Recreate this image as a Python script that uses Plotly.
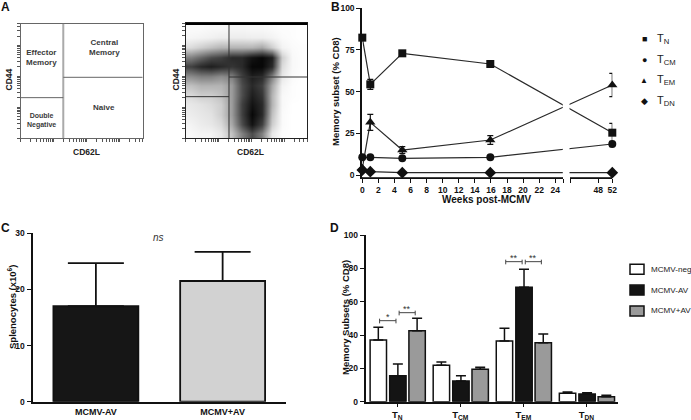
import math
import plotly.graph_objects as go

W, H = 691, 420
FONT = "Liberation Sans, Arial, sans-serif"
INK = "#111111"

def px(x):
    return x / W

def py(y):
    return 1 - y / H

# ---------------- Panel A: flow cytometry (CD62L vs CD44), density ----------------
cd62l_bins = [0.042, 0.125, 0.208, 0.292, 0.375, 0.458, 0.542, 0.625, 0.708, 0.792, 0.875, 0.958]
cd44_bins = [0.958, 0.875, 0.792, 0.708, 0.625, 0.542, 0.458, 0.375, 0.292, 0.208, 0.125, 0.042]
density = [
    [0.02, 0.02, 0.03, 0.03, 0.04, 0.04, 0.03, 0.03, 0.02, 0.01, 0.01, 0.00],
    [0.04, 0.05, 0.06, 0.08, 0.08, 0.08, 0.07, 0.07, 0.05, 0.02, 0.01, 0.00],
    [0.15, 0.20, 0.25, 0.30, 0.30, 0.30, 0.30, 0.35, 0.20, 0.05, 0.02, 0.01],
    [0.50, 0.60, 0.70, 0.75, 0.85, 0.85, 0.95, 1.00, 0.90, 0.20, 0.03, 0.01],
    [0.75, 0.85, 0.90, 0.85, 0.80, 0.85, 1.00, 1.00, 0.85, 0.15, 0.03, 0.01],
    [0.45, 0.50, 0.50, 0.45, 0.50, 0.75, 0.90, 0.85, 0.50, 0.10, 0.02, 0.00],
    [0.25, 0.30, 0.30, 0.30, 0.40, 0.70, 0.85, 0.75, 0.35, 0.05, 0.01, 0.00],
    [0.15, 0.20, 0.20, 0.25, 0.40, 0.70, 0.90, 0.80, 0.30, 0.03, 0.01, 0.00],
    [0.10, 0.12, 0.15, 0.20, 0.40, 0.75, 0.95, 0.85, 0.30, 0.03, 0.00, 0.00],
    [0.08, 0.10, 0.12, 0.20, 0.40, 0.75, 1.00, 0.85, 0.25, 0.02, 0.00, 0.00],
    [0.05, 0.08, 0.10, 0.15, 0.35, 0.70, 0.95, 0.75, 0.20, 0.02, 0.00, 0.00],
    [0.03, 0.05, 0.05, 0.10, 0.25, 0.50, 0.70, 0.50, 0.10, 0.01, 0.00, 0.00],
]
quadrant_labels = ["Effector<br>Memory", "Central<br>Memory", "Naive", "Double<br>Negative"]

# ---------------- Panel B: memory subsets over time ----------------
weeks = [0, 1, 5, 16, 52]
b_series = ["T<sub>N</sub>", "T<sub>CM</sub>", "T<sub>EM</sub>", "T<sub>DN</sub>"]
tn = [82.4, 54.4, 73.0, 66.6, 25.4]
tn_err = [0.0, 3.0, 0.8, 1.0, 5.6]
tcm = [10.6, 10.6, 10.0, 10.6, 18.6]
tcm_err = [0.0, 0.0, 0.0, 0.0, 1.6]
tem = [4.0, 31.6, 15.0, 21.0, 54.0]
tem_err = [0.0, 4.8, 2.0, 2.6, 7.0]
tdn = [3.0, 2.0, 1.4, 1.4, 1.4]
tdn_err = [0.0, 0.0, 0.0, 0.0, 0.0]
b_left_ticks = [0, 2, 4, 6, 8, 10, 12, 14, 16, 18, 20, 22, 24]
b_right_ticks = [48, 52]
b_yticks = [0, 25, 50, 75, 100]

# ---------------- Panel C: splenocytes ----------------
c_groups = ["MCMV-AV", "MCMV+AV"]
c_vals = [17.0, 21.5]
c_err = [7.7, 5.2]

# ---------------- Panel D: memory subsets by group ----------------
d_subsets = ["T<sub>N</sub>", "T<sub>CM</sub>", "T<sub>EM</sub>", "T<sub>DN</sub>"]
d_names = ["MCMV-neg", "MCMV-AV", "MCMV+AV"]
d_neg = [37.0, 21.9, 36.4, 5.0]
d_neg_err = [7.6, 1.9, 7.6, 0.8]
d_av = [15.6, 12.4, 68.6, 4.6]
d_av_err = [7.0, 3.2, 10.8, 0.7]
d_pav = [42.6, 19.4, 35.4, 3.0]
d_pav_err = [7.4, 1.2, 5.2, 0.8]
d_sig = [(0, 0, 1, 48.6, "*"), (0, 1, 2, 53.4, "**"), (2, 0, 1, 84.0, "**"), (2, 1, 2, 84.0, "**")]

# ---------------- styles ----------------
B_SYMBOLS = ["square", "circle", "triangle-up", "diamond"]
B_GLYPHS = ["\u25a0", "\u25cf", "\u25b2", "\u25c6"]
D_COLORS = ["#ffffff", "#141414", "#9a9a9a"]
C_COLORS = ["#161616", "#d2d2d2"]
D_OFFSETS = [-0.43, -0.12, 0.185]
D_WIDTH = 0.26

# Broken x-axis for panel B: 0-25 at full scale, then 40-52 compressed
BREAK_L, BREAK_R, GAP, SCALE_R = 25, 40, 1.0, 3.5 / 8.0

def xdisp(w):
    return w if w <= BREAK_L else BREAK_L + GAP + (w - BREAK_R) * SCALE_R

fig = go.Figure()

# ---- A ----
fig.add_trace(go.Scatter(x=[None], y=[None], xaxis="x", yaxis="y", showlegend=False, hoverinfo="skip"))
fig.add_trace(go.Heatmap(
    x=cd62l_bins, y=cd44_bins, z=density, xaxis="x2", yaxis="y2",
    colorscale=[[0, "#ffffff"], [0.1, "#e8e8e8"], [0.4, "#9a9a9a"], [0.75, "#404040"], [1, "#080808"]],
    zmin=0, zmax=1, zsmooth="best", showscale=False, hoverinfo="skip"))

# ---- B ----  (empty anchors so both halves of the broken axis get drawn)
fig.add_trace(go.Scatter(x=[None], y=[None], xaxis="x3", yaxis="y3", showlegend=False, hoverinfo="skip"))
fig.add_trace(go.Scatter(x=[None], y=[None], xaxis="x4", yaxis="y3", showlegend=False, hoverinfo="skip"))
b_vals = [tn, tcm, tem, tdn]
b_errs = [tn_err, tcm_err, tem_err, tdn_err]
xd = [xdisp(w) for w in weeks]
for vals in b_vals:
    fig.add_trace(go.Scatter(x=xd, y=vals, mode="lines", line=dict(color="#2a2a2a", width=1.2),
                             xaxis="x5", yaxis="y3", showlegend=False, hoverinfo="skip", cliponaxis=False))
for name, vals, errs, sym in zip(b_series, b_vals, b_errs, B_SYMBOLS):
    fig.add_trace(go.Scatter(
        x=xd, y=vals, mode="markers", name=name,
        marker=dict(symbol=sym, size=8 if sym in ("square", "circle") else 9, color=INK),
        error_y=dict(type="data", array=errs, color=INK, thickness=1.2, width=3),
        xaxis="x5", yaxis="y3", showlegend=False, cliponaxis=False))

# ---- C ----
fig.add_trace(go.Bar(
    x=c_groups, y=c_vals, width=0.67,
    marker=dict(color=C_COLORS, line=dict(color=INK, width=1.8)),
    error_y=dict(type="data", array=c_err, arrayminus=[0, 0], symmetric=False, color=INK, thickness=1.8, width=28),
    xaxis="x6", yaxis="y6", showlegend=False))

# ---- D ----
for name, vals, errs, col, off in zip(d_names, [d_neg, d_av, d_pav], [d_neg_err, d_av_err, d_pav_err], D_COLORS, D_OFFSETS):
    fig.add_trace(go.Bar(
        x=list(range(len(d_subsets))), y=vals, name=name, width=D_WIDTH, offset=off,
        marker=dict(color=col, line=dict(color=INK, width=1.5)),
        error_y=dict(type="data", array=errs, arrayminus=[0] * len(errs), symmetric=False,
                     color=INK, thickness=1.5, width=5),
        xaxis="x7", yaxis="y7", showlegend=False))

# ---------------- axes ----------------
decade_w = 0.27
log_ticks = [d * decade_w + math.log10(k) * decade_w for d in range(4) for k in range(1, 10)]
log_ticks = [t for t in log_ticks if t <= 1.0]

def flow_axis(domain, anchor, linecolor):
    return dict(domain=domain, anchor=anchor, range=[0, 1], showgrid=False, zeroline=False,
                showline=True, mirror=True, linecolor=linecolor, linewidth=1,
                ticks="outside", ticklen=3, tickwidth=1, tickcolor="#555",
                tickmode="array", tickvals=log_ticks, showticklabels=False, fixedrange=True)

tick_font = dict(family=FONT, size=8.5, color=INK, weight="bold")

layout = dict(
    width=W, height=420, margin=dict(l=0, r=0, t=0, b=0, autoexpand=False),
    paper_bgcolor="white", plot_bgcolor="white", showlegend=False,
    font=dict(family=FONT, color=INK),
    xaxis=flow_axis([px(20.7), px(142.7)], "y", "#666666"),
    yaxis=flow_axis([py(138), py(23.7)], "x", "#666666"),
    xaxis2=flow_axis([px(185.7), px(307.3)], "y2", "#222222"),
    yaxis2=flow_axis([py(138.3), py(23.3)], "x2", "#222222"),
    xaxis3=dict(domain=[px(362.3), px(563.3)], range=[0, BREAK_L], anchor="y3",
                tickmode="array", tickvals=b_left_ticks + [BREAK_L],
                ticktext=[str(t) for t in b_left_ticks] + [""],
                showline=True, linewidth=2, linecolor=INK, ticks="outside", ticklen=4, tickwidth=1.3,
                tickcolor=INK, tickfont=tick_font, showgrid=False, zeroline=False, fixedrange=True),
    xaxis4=dict(domain=[px(362.3 + (BREAK_L + GAP) * 8), px(362.3 + xdisp(52) * 8)],
                range=[BREAK_R, 52], anchor="y3",
                tickmode="array", tickvals=[BREAK_R] + b_right_ticks,
                ticktext=[""] + [str(t) for t in b_right_ticks],
                showline=True, linewidth=2, linecolor=INK, ticks="outside", ticklen=4, tickwidth=1.3,
                tickcolor=INK, tickfont=tick_font, showgrid=False, zeroline=False, fixedrange=True),
    xaxis5=dict(domain=[px(362.3), px(362.3 + xdisp(52) * 8)], range=[0, xdisp(52)], anchor="y3",
                visible=False, fixedrange=True),
    yaxis3=dict(domain=[py(177.2), py(8.3)], range=[-1.3, 100], anchor="x3",
                tickmode="array", tickvals=b_yticks, showline=True, linewidth=2, linecolor=INK,
                ticks="outside", ticklen=4, tickwidth=1.3, tickcolor=INK, tickfont=tick_font,
                showgrid=False, zeroline=False, fixedrange=True),
    xaxis6=dict(domain=[px(32.5), px(286)], range=[-0.5, 1.5], anchor="y6", type="category",
                showline=True, linewidth=2, linecolor=INK, ticks="",
                tickfont=dict(family=FONT, size=9, color=INK, weight="bold"),
                showgrid=False, zeroline=False, fixedrange=True),
    yaxis6=dict(domain=[py(401.7), py(233.3)], range=[0, 30], anchor="x6",
                tickmode="array", tickvals=[0, 10, 20, 30], showline=True, linewidth=2, linecolor=INK,
                ticks="outside", ticklen=4, tickwidth=1.3, tickcolor=INK, tickfont=tick_font,
                showgrid=False, zeroline=False, fixedrange=True),
    xaxis7=dict(domain=[px(365.7), px(618)], range=[-0.5, 3.5], anchor="y7",
                tickmode="array", tickvals=list(range(len(d_subsets))), ticktext=d_subsets,
                showline=True, linewidth=2, linecolor=INK, ticks="outside", ticklen=3, tickwidth=1.3,
                tickcolor=INK, tickfont=dict(family=FONT, size=9.5, color=INK, weight="bold"),
                showgrid=False, zeroline=False, fixedrange=True),
    yaxis7=dict(domain=[py(401.7), py(235)], range=[0, 100], anchor="x7",
                tickmode="array", tickvals=[0, 20, 40, 60, 80, 100], showline=True, linewidth=2, linecolor=INK,
                ticks="outside", ticklen=4, tickwidth=1.3, tickcolor=INK, tickfont=tick_font,
                showgrid=False, zeroline=False, fixedrange=True),
)
fig.update_layout(**layout)

shapes = []
ann = []

def text(x, y, s, size=9, bold=True, angle=0, color=INK, xanchor="center", italic=False):
    if italic:
        s = "<i>" + s + "</i>"
    ann.append(dict(x=px(x), y=py(y), xref="paper", yref="paper", text=s, showarrow=False,
                    textangle=angle, xanchor=xanchor, yanchor="middle",
                    font=dict(family=FONT, size=size, color=color, weight="bold" if bold else "normal")))

# ---- A: quadrant gates ----
shapes += [
    dict(type="line", xref="x", yref="y", x0=0.349, x1=0.349, y0=0, y1=1, line=dict(color="#aaaaaa", width=2)),
    dict(type="line", xref="x", yref="y", x0=0, x1=0.349, y0=0.353, y1=0.353, line=dict(color="#666666", width=1)),
    dict(type="line", xref="x", yref="y", x0=0.349, x1=1, y0=0.531, y1=0.531, line=dict(color="#666666", width=1)),
    dict(type="line", xref="x2", yref="y2", x0=0.356, x1=0.356, y0=0, y1=1, line=dict(color="#333333", width=1)),
    dict(type="line", xref="x2", yref="y2", x0=0, x1=0.356, y0=0.362, y1=0.362, line=dict(color="#333333", width=1)),
    dict(type="line", xref="x2", yref="y2", x0=0.356, x1=1, y0=0.533, y1=0.533, line=dict(color="#333333", width=1)),
    dict(type="line", xref="paper", yref="paper", x0=px(185.7), x1=px(307.3), y0=py(23.8), y1=py(23.8),
         line=dict(color="#000000", width=2.2)),
]
for lab, (qx, qy, sz) in zip(quadrant_labels, [(41, 58, 8), (104, 47, 8), (104, 107, 8), (41, 121, 7)]):
    text(qx, qy, lab, size=sz, color="#3a3a3a")
text(8.5, 80, "CD44", size=8.5, angle=-90, color="#222")
text(86, 152, "CD62L", size=8.5, color="#222")
text(175.5, 80, "CD44", size=8.5, angle=-90, color="#222")
text(251, 152, "CD62L", size=8.5, color="#222")

# ---- B: axis break gap across lines ----
shapes.append(dict(type="rect", xref="x5", yref="y3", x0=BREAK_L + 0.06, x1=BREAK_L + GAP - 0.1,
                   y0=-0.4, y1=100, fillcolor="white", line=dict(width=0), layer="above"))
text(335, 92, "Memory subset (% CD8)", size=9.5, angle=-90)
text(487, 199, "Weeks post-MCMV", size=10)
for i, (g, nm) in enumerate(zip(B_GLYPHS, b_series)):
    yy = 39 + i * 20.7
    text(644, yy, g, size=9 if i != 2 else 8, bold=False)
    text(655, yy, nm, size=11, bold=False, xanchor="left", color="#222")

# ---- C ----
text(12, 307, "Splenocytes (x10<sup>6</sup>)", size=9.5, angle=-90)
text(158, 237, "ns", size=10, bold=False, italic=True, color="#333")

# ---- D ----
text(345, 318, "Memory Subsets (% CD8)", size=9.5, angle=-90)
centers = [o + D_WIDTH / 2 for o in D_OFFSETS]
for cat, a, b, yv, star in d_sig:
    x0 = cat + centers[a] + 0.02
    x1 = cat + centers[b] - 0.03
    shapes += [
        dict(type="line", xref="x7", yref="y7", x0=x0, x1=x1, y0=yv, y1=yv, line=dict(color="#444", width=1)),
        dict(type="line", xref="x7", yref="y7", x0=x0, x1=x0, y0=yv - 1.6, y1=yv + 1.2, line=dict(color="#444", width=1)),
        dict(type="line", xref="x7", yref="y7", x0=x1, x1=x1, y0=yv - 1.6, y1=yv + 1.2, line=dict(color="#444", width=1)),
    ]
    ann.append(dict(x=(x0 + x1) / 2, y=yv, xref="x7", yref="y7", text=star, showarrow=False,
                    yanchor="bottom", yshift=-3, font=dict(family=FONT, size=9, color="#333")))
for i, (nm, col) in enumerate(zip(d_names, D_COLORS)):
    yy = 269.3 + i * 20.8
    shapes.append(dict(type="rect", xref="paper", yref="paper", x0=px(630), x1=px(644),
                       y0=py(yy + 5), y1=py(yy - 5), fillcolor=col, line=dict(color=INK, width=1.5)))
    text(648.5, yy, nm, size=8.1, bold=False, xanchor="left", color="#222")

# ---- panel letters ----
for letter, (lx, ly) in zip("ABCD", [(5, 7), (335, 7), (5, 228), (334, 228)]):
    text(lx, ly, letter, size=12)

fig.update_layout(shapes=shapes, annotations=ann)
fig.write_html("out.html", config={"displayModeBar": False},
               post_script="document.body.style.margin='0';document.body.style.overflow='hidden';")
